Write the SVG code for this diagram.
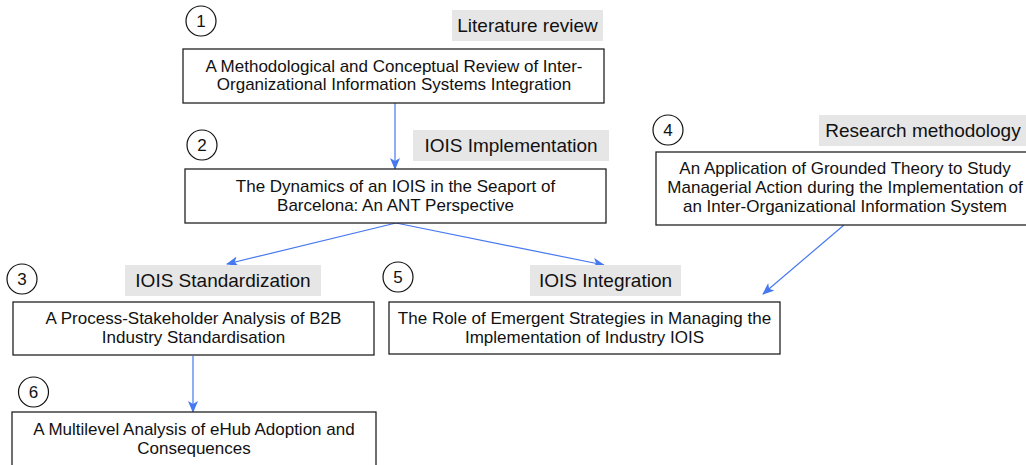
<svg xmlns="http://www.w3.org/2000/svg" width="1026" height="465" viewBox="0 0 1026 465">
<style>
.box{fill:#fff;stroke:#222;stroke-width:1.3}
.lbl{fill:#e6e6e6}
.num{fill:#fff;stroke:#111;stroke-width:1.2}
.t{font-family:"Liberation Sans",Arial,sans-serif;font-size:17px;fill:#111;text-anchor:middle}
.lt{font-family:"Liberation Sans",Arial,sans-serif;font-size:19px;fill:#111;text-anchor:middle}
.nt{font-family:"Liberation Sans",Arial,sans-serif;font-size:17px;fill:#111;text-anchor:middle}
.c{stroke:#4678f0;stroke-width:1.2;fill:none;marker-end:url(#ah)}
</style>
<defs>
<marker id="ah" markerUnits="userSpaceOnUse" markerWidth="12" markerHeight="10" viewBox="0 0 12 10" refX="11" refY="5" orient="auto">
<path d="M0,0 L12,5 L0,10 L3,5 Z" fill="#4678f0"/>
</marker>
</defs>
<rect width="1026" height="465" fill="#fff"/>

<g id="connectors">
<line class="c" x1="395" y1="103" x2="395" y2="169"/>
<line class="c" x1="396" y1="223" x2="227" y2="264"/>
<line class="c" x1="396" y1="223" x2="604" y2="265"/>
<line class="c" x1="844" y1="225" x2="763" y2="294"/>
<line class="c" x1="193" y1="356" x2="193" y2="412"/>
</g>

<g id="node1">
<circle class="num" cx="201" cy="21" r="15"/>
<text class="nt" x="201" y="27">1</text>
<rect class="lbl" x="452" y="10" width="151" height="31"/>
<text class="lt" x="527.5" y="32">Literature review</text>
<rect class="box" x="183" y="49" width="421" height="54"/>
<text class="t" x="394" y="72">A Methodological and Conceptual Review of Inter-</text>
<text class="t" x="394" y="90">Organizational Information Systems Integration</text>
</g>

<g id="node2">
<circle class="num" cx="202" cy="145" r="15"/>
<text class="nt" x="202" y="151">2</text>
<rect class="lbl" x="413" y="130" width="196" height="31"/>
<text class="lt" x="511" y="152">IOIS Implementation</text>
<rect class="box" x="185" y="169" width="421" height="54"/>
<text class="t" x="395.5" y="192">The Dynamics of an IOIS in the Seaport of</text>
<text class="t" x="395.5" y="211">Barcelona: An ANT Perspective</text>
</g>

<g id="node3">
<circle class="num" cx="22" cy="279" r="15"/>
<text class="nt" x="22" y="285">3</text>
<rect class="lbl" x="125" y="265" width="196" height="31"/>
<text class="lt" x="223" y="287">IOIS Standardization</text>
<rect class="box" x="13" y="302" width="361" height="53"/>
<text class="t" x="193.5" y="324">A Process-Stakeholder Analysis of B2B</text>
<text class="t" x="193.5" y="343">Industry Standardisation</text>
</g>

<g id="node4">
<circle class="num" cx="668" cy="130" r="15"/>
<text class="nt" x="668" y="136">4</text>
<rect class="lbl" x="819" y="115" width="215" height="31"/>
<text class="lt" x="923" y="137">Research methodology</text>
<rect class="box" x="656" y="152" width="378" height="73"/>
<text class="t" x="845" y="174">An Application of Grounded Theory to Study</text>
<text class="t" x="845" y="193">Managerial Action during the Implementation of</text>
<text class="t" x="845" y="212">an Inter-Organizational Information System</text>
</g>

<g id="node5">
<circle class="num" cx="398" cy="277" r="15"/>
<text class="nt" x="398" y="283">5</text>
<rect class="lbl" x="530" y="265" width="151" height="31"/>
<text class="lt" x="605.5" y="287">IOIS Integration</text>
<rect class="box" x="389" y="302" width="391" height="52"/>
<text class="t" x="584.5" y="324">The Role of Emergent Strategies in Managing the</text>
<text class="t" x="584.5" y="343">Implementation of Industry IOIS</text>
</g>

<g id="node6">
<circle class="num" cx="33.5" cy="392" r="15"/>
<text class="nt" x="33.5" y="398">6</text>
<rect class="box" x="12" y="412" width="364" height="70"/>
<text class="t" x="194" y="435">A Multilevel Analysis of eHub Adoption and</text>
<text class="t" x="194" y="454">Consequences</text>
</g>
</svg>
